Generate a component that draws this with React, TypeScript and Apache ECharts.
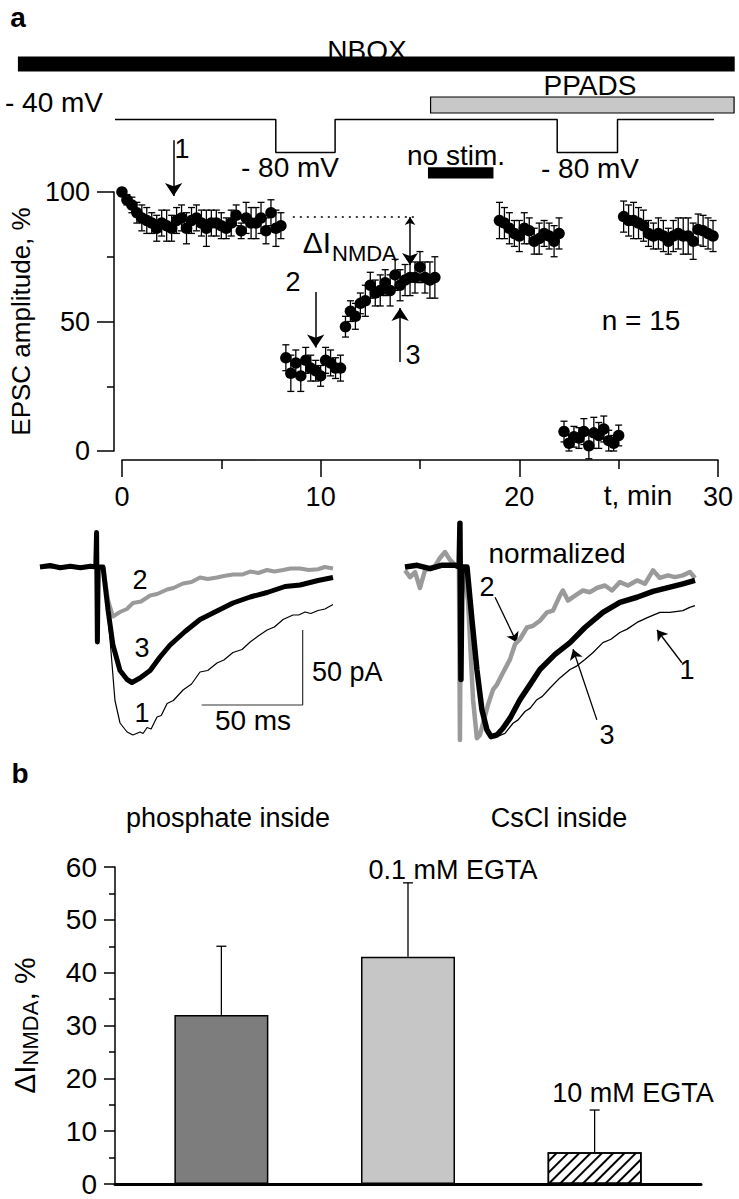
import React, { useEffect, useRef } from 'react';
import * as echarts from 'echarts';

const FONT = '"Liberation Sans", Arial, Helvetica, sans-serif';

// ---------- Panel a: time course (t in min, EPSC amplitude %, SEM) ----------
const segControl = [
  [0, 100, 1.5], [0.25, 97, 2], [0.5, 95, 3], [0.75, 92, 4], [1, 90, 5], [1.25, 89, 5], [1.5, 88, 4],
  [1.75, 86, 5], [2, 88, 5], [2.25, 87, 6], [2.5, 86, 5], [2.75, 89, 5], [3, 90, 5], [3.25, 86, 6],
  [3.5, 89, 5], [3.75, 90, 5], [4, 88, 5], [4.25, 86, 7], [4.5, 88, 5], [4.75, 88, 5], [5, 87, 5],
  [5.25, 86, 4], [5.5, 88, 5], [5.75, 91, 4], [6, 85, 3], [6.25, 90, 6], [6.5, 88, 6], [6.75, 88, 6],
  [7, 90, 6], [7.25, 85, 5], [7.5, 92, 5], [7.75, 86, 7], [8, 87, 5],
];
const segHyper1 = [
  [8.25, 36, 5], [8.5, 30, 7], [8.75, 34, 5], [9, 29, 6], [9.25, 35, 5], [9.5, 32, 5],
  [9.75, 31, 4], [10, 29, 4], [10.25, 35, 5], [10.5, 34, 5], [10.75, 32, 4], [11, 32, 5],
];
const segRecovery = [
  [11.25, 48, 4], [11.5, 54, 4], [11.75, 52, 5], [12, 57, 4], [12.25, 58, 6], [12.5, 64, 5],
  [12.75, 61, 5], [13, 62, 6], [13.25, 65, 5], [13.5, 62, 6], [13.75, 68, 6], [14, 64, 6],
  [14.25, 66, 6], [14.5, 67, 7], [14.75, 67, 6], [15, 71, 6], [15.25, 67, 6], [15.5, 66, 7], [15.75, 67, 8],
];
const segPpads = [
  [19, 89, 7], [19.25, 88, 6], [19.5, 86, 6], [19.75, 84, 5], [20, 83, 6], [20.25, 86, 6], [20.5, 85, 5],
  [20.75, 81, 5], [21, 82, 6], [21.25, 84, 5], [21.5, 83, 5], [21.75, 81, 6], [22, 84, 6],
];
const segHyper2 = [
  [22.25, 7.5, 4], [22.5, 3, 3], [22.75, 5.5, 4], [23, 5, 4], [23.25, 7.5, 5], [23.5, 2, 5],
  [23.75, 7, 6], [24, 6, 5], [24.25, 8.5, 5], [24.5, 4, 4], [24.75, 3, 3], [25, 6, 4],
];
const segEnd = [
  [25.25, 90.5, 6], [25.5, 89, 6], [25.75, 89, 7], [26, 88, 6], [26.25, 87, 6], [26.5, 84, 5],
  [26.75, 83, 5], [27, 84, 6], [27.25, 83, 6], [27.5, 81, 5], [27.75, 83, 6], [28, 84, 6],
  [28.25, 83, 7], [28.5, 83, 7], [28.75, 81, 7], [29, 85.5, 6], [29.25, 85, 6], [29.5, 84, 6], [29.75, 83, 6],
];
const timeCourse = [...segControl, ...segHyper1, ...segRecovery, ...segPpads, ...segHyper2, ...segEnd];

// Holding potential protocol (t min, mV)
const protocol = [[0, -40], [8, -40], [8, -80], [10.95, -80], [10.95, -40], [22, -40], [22, -80], [25, -80], [25, -40], [29.8, -40]];
// Drug / stimulation bars (start, end, min)
const drugNames = ['NBQX', 'PPADS', 'no stim.'];
const drugSpans = [[-4.8, 30.8], [15.7, 30.8], [15.6, 18.8]];

// Annotations on time course
const controlLevel = [[8.6, 90.3], [14.8, 90.3]];
const deltaArrow = [[14.5, 90.3], [14.5, 71.8]];
const pointArrows = [
  [[2.6, 120], [2.6, 98.5]],
  [[9.75, 61.4], [9.75, 40]],
  [[14, 34.4], [14, 55.2]],
];

// ---------- Panel a: current traces (t ms, pA) ----------
const trace1Abs = [
  [0, 0], [10, 0.5], [20, -0.5], [28, 0], [31.2, 0], [34.7, -49], [37.1, -89], [39.6, -104], [43.1, -110],
  [46, -112], [49.5, -110], [51, -111], [53, -107], [55, -108], [57.9, -100], [60, -99], [62.9, -91], [66, -89],
  [70.8, -82], [75, -78], [79.2, -70], [83, -69], [87.6, -64], [91, -62], [95.5, -57], [100, -55], [104, -50],
  [108, -46], [112.4, -42], [116, -40], [120.3, -35], [125.2, -32], [128, -32], [131.2, -30], [134, -31],
  [137.6, -29], [141, -28], [145, -25],
];
const trace2Abs = [
  [0, 0], [28, 0], [31.2, 0], [33.7, -22], [36.1, -33], [39.6, -30], [43, -28], [46, -24], [50, -23], [54.5, -19],
  [58, -18], [62.9, -15], [66, -14], [70.8, -11], [75, -10], [79.2, -7], [83, -8], [87.6, -7], [91, -6], [95.5, -5],
  [100, -5], [104, -3], [108, -4], [112.4, -2], [116, -3], [120.3, -2], [124, -1], [128.7, -1], [133, -2],
  [137.6, -1.5], [141, 0], [145, -1],
];
const trace3Abs = [
  [0, 0], [5, 1], [10, -0.5], [15, 0.5], [20, -0.5], [25, 0.5], [27.6, 0], [28, 23], [28.4, -50], [28.8, 0],
  [31.2, 0], [33.7, -29], [36.1, -52], [39.6, -69], [43.1, -75], [45.5, -77], [49.5, -74], [54.5, -69],
  [59.4, -60], [64.4, -52], [71.8, -43], [79.2, -35], [86.6, -30], [95.5, -24], [104, -20], [112.4, -17],
  [121.3, -13], [128.7, -12], [137.6, -9], [145, -7],
];
const scaleBar = [[80, -92], [130, -92], [130, -42]];

// Normalized traces (t ms, fraction of peak)
const trace1Norm = [
  [0, 0], [28, 0], [30.7, 0], [33.2, -0.26], [36.1, -0.67], [39.1, -0.91], [42.1, -1], [45.5, -1.01], [49.5, -0.99],
  [53.5, -0.93], [56, -0.91], [59.4, -0.86], [62, -0.84], [65.3, -0.79], [68, -0.77], [71.8, -0.72], [76.7, -0.66],
  [81.7, -0.61], [85, -0.59], [89.1, -0.55], [93, -0.51], [98, -0.45], [102, -0.43], [106.4, -0.39], [110, -0.37],
  [114.9, -0.33], [120.3, -0.3], [126.2, -0.27], [131.2, -0.27], [137.6, -0.26], [141, -0.24], [143.6, -0.23],
];
const trace2Norm = [
  [0, -0.02], [2.5, -0.06], [5, -0.03], [7.4, -0.125], [9.9, -0.02], [14.9, 0.006], [17.3, 0.054], [19.8, 0.089],
  [22.3, 0.042], [24.8, 0.012], [26.7, 0], [27.2, -1.03], [27.7, 0], [28.7, 0], [31.2, -0.2], [33.7, -0.79],
  [35.6, -1.02], [37.1, -1.0], [39.1, -0.91], [41.1, -0.82], [43.6, -0.73], [45.5, -0.7], [48.5, -0.63], [52, -0.55],
  [54.5, -0.46], [56.9, -0.43], [60.4, -0.36], [63.4, -0.35], [66.8, -0.32], [70.3, -0.27], [73.3, -0.26],
  [76.7, -0.17], [78.2, -0.14], [80.7, -0.2], [84.2, -0.17], [88.1, -0.14], [91.6, -0.15], [95, -0.125], [99, -0.11],
  [102.5, -0.14], [106.4, -0.09], [110.4, -0.11], [114.9, -0.08], [118.8, -0.1], [122.8, -0.02], [126.2, -0.065],
  [130.2, -0.05], [133.7, -0.06], [137.6, -0.05], [141.1, -0.03], [143.6, -0.065],
];
const trace3Norm = [
  [0, 0], [6, 0.01], [12.4, -0.01], [18, 0.01], [24.8, 0.01], [26.8, 0], [27.2, 0.26], [27.7, -0.67], [28.2, 0],
  [30.7, 0], [33.2, -0.32], [35.6, -0.61], [38.1, -0.85], [40.6, -0.97], [42.6, -1.01], [45.5, -1], [48.5, -0.96],
  [52, -0.9], [56.9, -0.79], [61.9, -0.7], [66.8, -0.61], [74.3, -0.52], [81.7, -0.45], [89.1, -0.36], [98, -0.27],
  [106.4, -0.21], [114.9, -0.18], [122.8, -0.145], [131.2, -0.12], [137.6, -0.1], [143.6, -0.08],
];
const normArrows = [
  [[44.6, -0.18], [55.4, -0.45]],
  [[95, -0.91], [83.2, -0.49]],
  [[137.1, -0.57], [124.8, -0.375]],
];

// ---------- Panel b: bar chart ----------
const barGroups = ['phosphate inside', '0.1 mM EGTA', '10 mM EGTA'];
const barPositions = [1, 2, 3];
const barMeans = [32, 43, 6];
const barSems = [13, 14, 8];

// ---------- styles ----------
const drugStyle = [
  { level: 27.3, h: 14, fill: '#000', stroke: '#000' },
  { level: -22.4, h: 16, fill: '#c8c8c8', stroke: '#000' },
  { level: -104.8, h: 10, fill: '#000', stroke: '#000' },
];
const barFill = ['#7d7d7d', '#c6c6c6', '#ffffff'];

const txt = (text: string, x: number, y: number, size = 28, align = 'center', weight = 'normal') => ({
  type: 'text',
  x,
  y,
  z: 100,
  style: {
    text,
    font: `${weight} ${size}px ${FONT}`,
    fill: '#000',
    textAlign: align,
    textVerticalAlign: 'middle',
  },
});

function buildOption(): any {
  const axisBlack = { lineStyle: { color: '#000', width: 1.5 } };
  const hidden = { show: false };
  return {
    animation: false,
    backgroundColor: '#fff',
    grid: [
      { left: 115, width: 603, top: 53.5, height: 115.5 },
      { left: 115, width: 603, top: 192, height: 259 },
      { left: 40, width: 295, top: 529.5, height: 210 },
      { left: 405, width: 290, top: 516.6, height: 235.2 },
      { left: 115, width: 586, top: 867, height: 317 },
    ],
    xAxis: [
      { gridIndex: 0, type: 'value', min: 0, max: 30, ...hidden },
      {
        gridIndex: 1, type: 'value', min: 0, max: 30, interval: 10, offset: 9,
        axisLine: { show: true, onZero: false, ...axisBlack },
        axisTick: { show: true, length: 17, ...axisBlack },
        minorTick: { show: true, splitNumber: 2, length: 9, ...axisBlack },
        splitLine: { show: false },
        axisLabel: { fontFamily: FONT, fontSize: 27, color: '#000', margin: 23 },
      },
      { gridIndex: 2, type: 'value', min: 0, max: 146, ...hidden },
      { gridIndex: 3, type: 'value', min: 0, max: 143.6, ...hidden },
      {
        gridIndex: 4, type: 'value', min: 0.43, max: 3.57,
        axisLine: { show: true, onZero: false, lineStyle: { color: '#000', width: 3 } },
        axisTick: { show: false }, axisLabel: { show: false }, splitLine: { show: false },
      },
    ],
    yAxis: [
      { gridIndex: 0, type: 'value', min: -100, max: 40, ...hidden },
      {
        gridIndex: 1, type: 'value', min: 0, max: 100, interval: 50, offset: 8,
        axisLine: { show: true, onZero: false, ...axisBlack },
        axisTick: { show: true, length: 17, ...axisBlack },
        minorTick: { show: true, splitNumber: 2, length: 7, ...axisBlack },
        splitLine: { show: false },
        axisLabel: { fontFamily: FONT, fontSize: 27, color: '#000', margin: 24 },
        name: 'EPSC amplitude, %', nameLocation: 'middle', nameGap: 69,
        nameTextStyle: { fontFamily: FONT, fontSize: 26, color: '#000' },
      },
      { gridIndex: 2, type: 'value', min: -115, max: 25, ...hidden },
      { gridIndex: 3, type: 'value', min: -1.1, max: 0.3, ...hidden },
      {
        gridIndex: 4, type: 'value', min: 0, max: 60, interval: 10,
        axisLine: { show: true, onZero: false, ...axisBlack },
        axisTick: { show: true, length: 11, ...axisBlack },
        minorTick: { show: true, splitNumber: 2, length: 6, ...axisBlack },
        splitLine: { show: false },
        axisLabel: { fontFamily: FONT, fontSize: 28, color: '#000', margin: 18 },
        name: '{a|ΔI}{b|NMDA}{a|, %}', nameLocation: 'middle', nameGap: 74,
        nameTextStyle: {
          color: '#000',
          rich: {
            a: { fontFamily: FONT, fontSize: 30, color: '#000' },
            b: { fontFamily: FONT, fontSize: 22, color: '#000', padding: [12, 0, 0, 0] },
          },
        },
      },
    ],
    series: [
      // drug bars
      {
        type: 'custom', xAxisIndex: 0, yAxisIndex: 0, clip: false,
        data: drugSpans.map((s, i) => ({ name: drugNames[i], value: [s[0], s[1], i] })),
        renderItem: (params: any, api: any) => {
          const st = drugStyle[api.value(2)];
          const a = api.coord([api.value(0), st.level]);
          const b = api.coord([api.value(1), st.level]);
          return {
            type: 'rect',
            shape: { x: a[0], y: a[1] - st.h / 2, width: b[0] - a[0], height: st.h },
            style: { fill: st.fill, stroke: st.stroke, lineWidth: 1.2 },
          };
        },
      },
      // holding potential
      {
        type: 'line', xAxisIndex: 0, yAxisIndex: 0, data: protocol, symbol: 'none',
        lineStyle: { color: '#000', width: 1.5 },
      },
      // error bars for time course
      {
        type: 'custom', xAxisIndex: 1, yAxisIndex: 1, clip: false, z: 3,
        data: timeCourse,
        renderItem: (params: any, api: any) => {
          const t = api.value(0), v = api.value(1), e = api.value(2);
          const hi = api.coord([t, v + e]);
          const lo = api.coord([t, v - e]);
          const cw = 3.5;
          const ls = { stroke: '#000', lineWidth: 1.3 };
          return {
            type: 'group',
            children: [
              { type: 'line', shape: { x1: hi[0], y1: hi[1], x2: lo[0], y2: lo[1] }, style: ls },
              { type: 'line', shape: { x1: hi[0] - cw, y1: hi[1], x2: hi[0] + cw, y2: hi[1] }, style: ls },
              { type: 'line', shape: { x1: lo[0] - cw, y1: lo[1], x2: lo[0] + cw, y2: lo[1] }, style: ls },
            ],
          };
        },
      },
      {
        type: 'scatter', xAxisIndex: 1, yAxisIndex: 1, symbol: 'circle', symbolSize: 11.5, z: 4,
        data: timeCourse.map((d) => [d[0], d[1]]),
        itemStyle: { color: '#000', opacity: 1 },
      },
      {
        type: 'line', xAxisIndex: 1, yAxisIndex: 1, data: controlLevel, symbol: 'none',
        lineStyle: { color: '#000', width: 1.5, type: [2, 5] },
      },
      {
        type: 'lines', coordinateSystem: 'cartesian2d', xAxisIndex: 1, yAxisIndex: 1, clip: false,
        symbol: ['none', 'arrow'], symbolSize: [8, 13],
        lineStyle: { color: '#000', width: 1.5, opacity: 1 },
        data: pointArrows.map((c) => ({ coords: c })),
      },
      {
        type: 'lines', coordinateSystem: 'cartesian2d', xAxisIndex: 1, yAxisIndex: 1, clip: false,
        symbol: ['arrow', 'arrow'], symbolSize: [8, 12],
        lineStyle: { color: '#000', width: 1.5, opacity: 1 },
        data: [{ coords: deltaArrow }],
      },
      // absolute traces
      {
        type: 'line', xAxisIndex: 2, yAxisIndex: 2, data: trace2Abs, symbol: 'none', z: 2,
        lineStyle: { color: '#9a9a9a', width: 4, join: 'round' },
      },
      {
        type: 'line', xAxisIndex: 2, yAxisIndex: 2, data: trace1Abs, symbol: 'none', z: 3,
        lineStyle: { color: '#000', width: 1.2 },
      },
      {
        type: 'line', xAxisIndex: 2, yAxisIndex: 2, data: trace3Abs, symbol: 'none', z: 4,
        lineStyle: { color: '#000', width: 5, join: 'round' },
      },
      {
        type: 'line', xAxisIndex: 2, yAxisIndex: 2, data: scaleBar, symbol: 'none', z: 2,
        lineStyle: { color: '#333', width: 1.2 },
      },
      // normalized traces
      {
        type: 'line', xAxisIndex: 3, yAxisIndex: 3, data: trace2Norm, symbol: 'none', z: 2,
        lineStyle: { color: '#9a9a9a', width: 4.5, join: 'round' },
      },
      {
        type: 'line', xAxisIndex: 3, yAxisIndex: 3, data: trace1Norm, symbol: 'none', z: 3,
        lineStyle: { color: '#000', width: 1.3 },
      },
      {
        type: 'line', xAxisIndex: 3, yAxisIndex: 3, data: trace3Norm, symbol: 'none', z: 4,
        lineStyle: { color: '#000', width: 5.5, join: 'round' },
      },
      {
        type: 'lines', coordinateSystem: 'cartesian2d', xAxisIndex: 3, yAxisIndex: 3, clip: false,
        symbol: ['none', 'arrow'], symbolSize: [6, 10],
        lineStyle: { color: '#000', width: 1.3, opacity: 1 },
        data: normArrows.map((c) => ({ coords: c })),
      },
      // panel b bars
      {
        type: 'bar', xAxisIndex: 4, yAxisIndex: 4, barWidth: 94,
        data: barPositions.map((p, i) => ({
          name: barGroups[i],
          value: [p, barMeans[i]],
          itemStyle: {
            color: barFill[i],
            borderColor: '#000',
            borderWidth: 1.5,
            decal: i === 2
              ? {
                  symbol: 'rect', symbolSize: 1, color: '#000', backgroundColor: '#fff',
                  dashArrayX: [1, 0], dashArrayY: [1.3, 6], rotation: -Math.PI / 4,
                }
              : undefined,
          },
        })),
      },
      {
        type: 'custom', xAxisIndex: 4, yAxisIndex: 4, clip: false, z: 5,
        data: barPositions.map((p, i) => [p, barMeans[i], barSems[i]]),
        renderItem: (params: any, api: any) => {
          const p = api.value(0), m = api.value(1), e = api.value(2);
          const base = api.coord([p, m]);
          const top = api.coord([p, m + e]);
          const ls = { stroke: '#000', lineWidth: 1.3 };
          return {
            type: 'group',
            children: [
              { type: 'line', shape: { x1: base[0], y1: base[1], x2: top[0], y2: top[1] }, style: ls },
              { type: 'line', shape: { x1: top[0] - 5, y1: top[1], x2: top[0] + 5, y2: top[1] }, style: ls },
            ],
          };
        },
      },
    ],
    graphic: [
      txt('a', 18, 17, 28, 'center', 'bold'),
      txt('NBQX', 367, 50, 28),
      txt('PPADS', 590, 85, 28),
      txt('- 40 mV', 5, 102, 28, 'left'),
      txt('- 80 mV', 290, 167, 28),
      txt('- 80 mV', 590, 168, 28),
      txt('no stim.', 456, 155, 28),
      txt('1', 182, 149, 27),
      txt('2', 293, 282, 27),
      txt('3', 413, 355, 27),
      txt('ΔI', 317, 242, 30),
      txt('NMDA', 332, 253, 22, 'left'),
      txt('n = 15', 641, 320, 28),
      txt('t, min', 638, 495, 28),
      txt('2', 140, 580, 27),
      txt('3', 142, 648, 27),
      txt('1', 142, 713, 27),
      txt('50 pA', 312, 672, 27, 'left'),
      txt('50 ms', 253, 720, 28),
      txt('normalized', 557, 553, 28),
      txt('2', 487, 587, 27),
      txt('3', 607, 735, 27),
      txt('1', 687, 670, 27),
      txt('b', 20, 773, 28, 'center', 'bold'),
      txt('phosphate inside', 228, 818, 27),
      txt('CsCl inside', 559, 818, 27),
      txt('0.1 mM EGTA', 453, 870, 27),
      txt('10 mM EGTA', 633, 1093, 27),
    ],
  };
}

export default function App() {
  const ref = useRef<HTMLDivElement>(null);
  useEffect(() => {
    const el = ref.current;
    if (!el) return;
    const chart = echarts.init(el, undefined, { renderer: 'svg' });
    chart.setOption(buildOption());
    return () => chart.dispose();
  }, []);
  return (
    <div
      ref={ref}
      style={{ position: 'absolute', left: 0, top: 0, width: 739, height: 1199, background: '#fff' }}
    />
  );
}
